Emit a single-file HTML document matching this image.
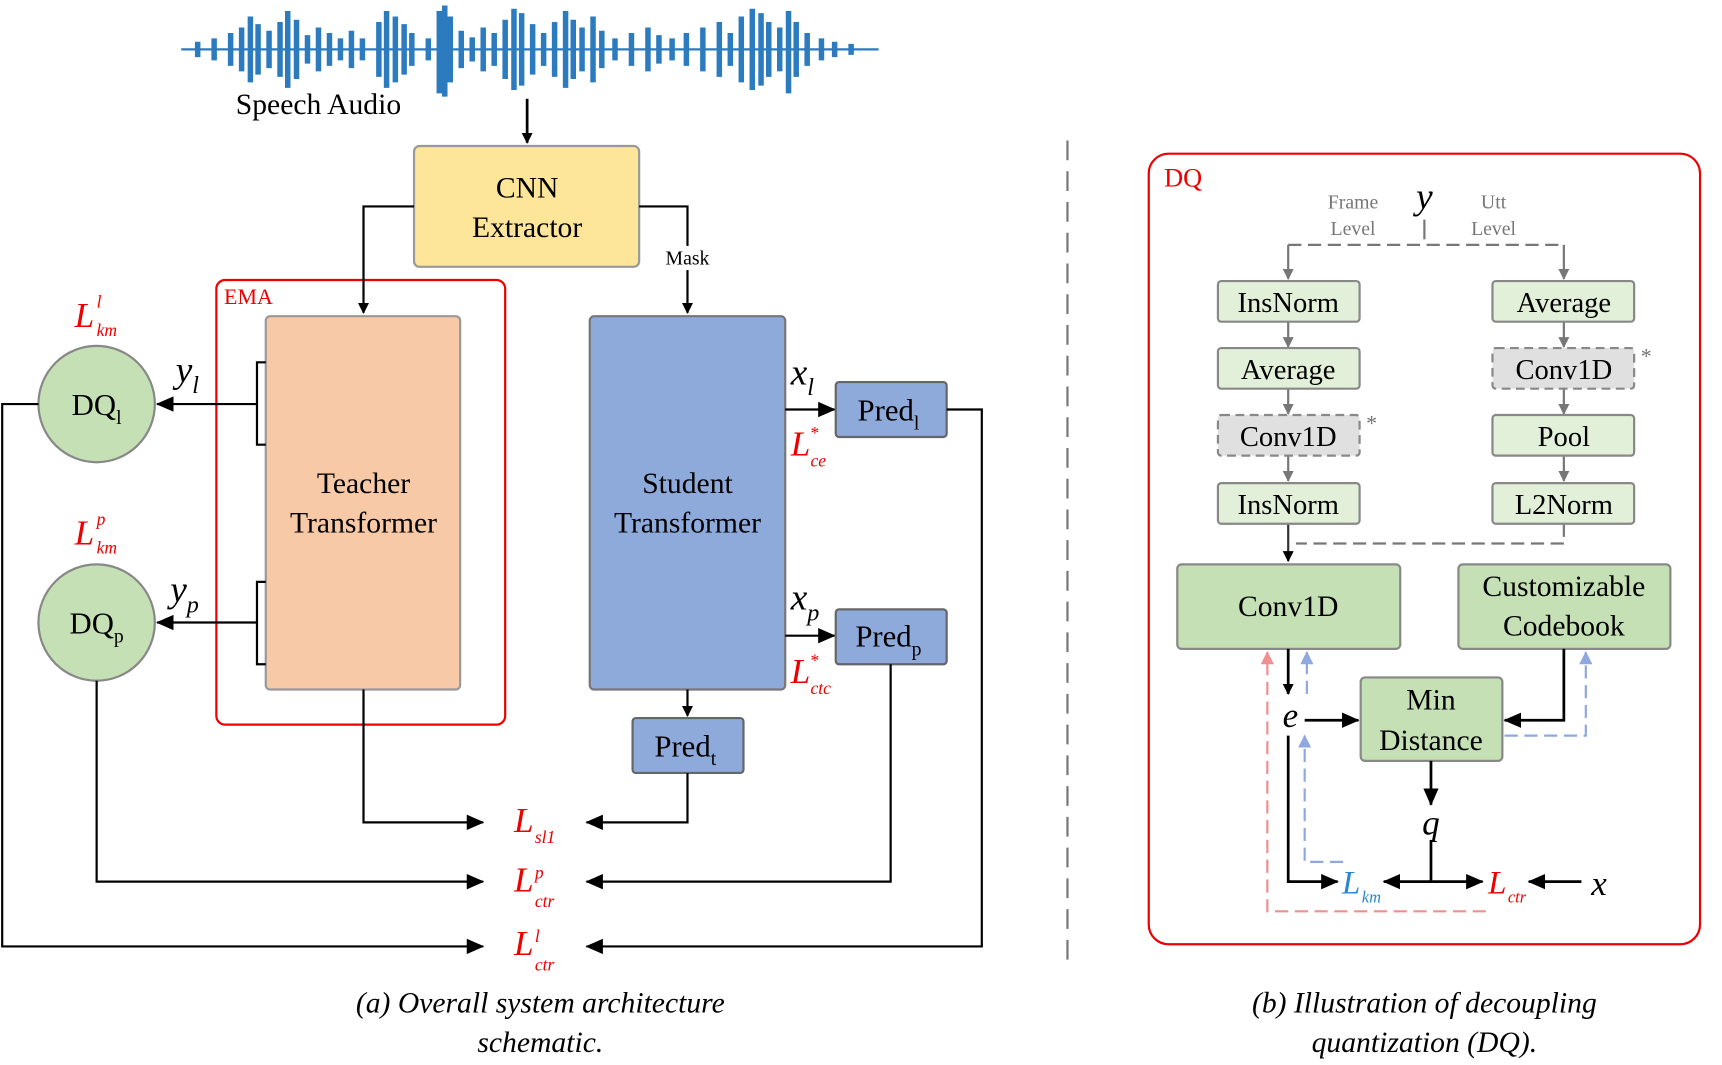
<!DOCTYPE html>
<html><head><meta charset="utf-8"><style>
html,body{margin:0;padding:0;background:#fff;}
svg{display:block;}
text{font-family:"Liberation Serif",serif;}
</style></head><body>
<svg width="1722" height="1065" viewBox="0 0 1568 970" preserveAspectRatio="none" xmlns="http://www.w3.org/2000/svg">
<defs>
<marker id="a" markerWidth="10" markerHeight="10" refX="9" refY="5" orient="auto" markerUnits="userSpaceOnUse"><path d="M0,0 L10,5 L0,10 z" fill="#000"/></marker>
<marker id="ab" markerWidth="16" markerHeight="14" refX="15" refY="7" orient="auto" markerUnits="userSpaceOnUse"><path d="M0,0 L16,7 L0,14 z" fill="#000"/></marker>
<marker id="ag" markerWidth="10" markerHeight="10" refX="9" refY="5" orient="auto" markerUnits="userSpaceOnUse"><path d="M0,0 L10,5 L0,10 z" fill="#777"/></marker>
<marker id="abl" markerWidth="12" markerHeight="12" refX="11" refY="6" orient="auto" markerUnits="userSpaceOnUse"><path d="M0,0 L12,6 L0,12 z" fill="#8fa8e0"/></marker>
<marker id="ar" markerWidth="12" markerHeight="12" refX="11" refY="6" orient="auto" markerUnits="userSpaceOnUse"><path d="M0,0 L12,6 L0,12 z" fill="#f08f8f"/></marker>
</defs>
<g stroke="#2c7bbf" stroke-width="5">
<line x1="165" y1="45" x2="800" y2="45" stroke-width="2"/>
<path d="M180 38V52M195 35V55M210 30V60M220 25V65M228 15V75M235 22V68M245 28V62M255 20V70M262 10V80M270 18V72M280 32V58M290 25V65M300 30V60M310 35V55M320 28V62M330 35V55M345 20V70M352 10V80M360 15V75M368 22V68M375 30V60M390 35V55M400 10V85M405 5V88M410 15V75M420 28V62M430 34V56M440 25V65M450 30V60M460 18V72M468 8V82M475 12V78M485 22V68M495 30V60M505 20V70M515 10V80M522 18V72M530 25V65M540 15V75M548 28V62M560 35V55M575 30V60M590 25V65M600 32V58M612 35V55M625 30V60M640 25V65M655 20V70M665 30V60M675 15V75M685 8V82M693 12V78M700 20V70M710 25V65M718 10V85M725 20V70M735 30V60M748 35V55M760 38V52M775 40V50"/>
</g>
<text x="290" y="104" font-size="27" text-anchor="middle">Speech Audio</text>
<line x1="480" y1="90" x2="480" y2="130" stroke="#000" stroke-width="2.5" marker-end="url(#a)"/>
<rect x="377" y="133" width="205" height="110" rx="5" fill="#fde59a" stroke="#999" stroke-width="2"/>
<text x="480" y="180" font-size="27" text-anchor="middle">CNN</text>
<text x="480" y="216" font-size="27" text-anchor="middle">Extractor</text>
<rect x="197" y="255" width="263" height="405" rx="8" fill="none" stroke="#e00" stroke-width="2"/>
<text x="204" y="277" font-size="20" fill="#e00">EMA</text>
<path d="M377 188 H331 V285" fill="none" stroke="#000" stroke-width="2" marker-end="url(#a)"/>
<path d="M582 188 H626 V285" fill="none" stroke="#000" stroke-width="2" marker-end="url(#a)"/>
<rect x="600" y="224" width="52" height="22" fill="#fff"/>
<text x="626" y="241" font-size="18" text-anchor="middle">Mask</text>
<rect x="242" y="288" width="177" height="340" rx="4" fill="#f7c9a6" stroke="#999" stroke-width="2"/>
<text x="331" y="449" font-size="27" text-anchor="middle">Teacher</text>
<text x="331" y="485" font-size="27" text-anchor="middle">Transformer</text>
<rect x="537" y="288" width="178" height="340" rx="4" fill="#8eaadb" stroke="#777" stroke-width="2"/>
<text x="626" y="449" font-size="27" text-anchor="middle">Student</text>
<text x="626" y="485" font-size="27" text-anchor="middle">Transformer</text>
<path d="M242 330 H234 V405 H242" fill="none" stroke="#000" stroke-width="2"/>
<line x1="234" y1="368" x2="143" y2="368" stroke="#000" stroke-width="2" marker-end="url(#ab)"/>
<path d="M242 530 H234 V605 H242" fill="none" stroke="#000" stroke-width="2"/>
<line x1="234" y1="567" x2="143" y2="567" stroke="#000" stroke-width="2" marker-end="url(#ab)"/>
<circle cx="88" cy="368" r="53" fill="#c5e0b4" stroke="#888" stroke-width="2"/>
<text x="88" y="378" font-size="28" text-anchor="middle">DQ<tspan font-size="18" dy="8">l</tspan></text>
<circle cx="88" cy="567" r="53" fill="#c5e0b4" stroke="#888" stroke-width="2"/>
<text x="88" y="577" font-size="28" text-anchor="middle">DQ<tspan font-size="18" dy="8">p</tspan></text>
<text x="68" y="298" font-size="32" font-style="italic" fill="#e00">L</text><text x="88" y="280" font-size="16" font-style="italic" fill="#e00">l</text><text x="88" y="306" font-size="16" font-style="italic" fill="#e00">km</text>
<text x="68" y="496" font-size="32" font-style="italic" fill="#e00">L</text><text x="88" y="478" font-size="16" font-style="italic" fill="#e00">p</text><text x="88" y="504" font-size="16" font-style="italic" fill="#e00">km</text>
<text x="160" y="348" font-size="34" font-style="italic">y<tspan font-size="22" dy="10">l</tspan></text>
<text x="155" y="548" font-size="34" font-style="italic">y<tspan font-size="22" dy="10">p</tspan></text>
<line x1="715" y1="373" x2="760" y2="373" stroke="#000" stroke-width="2" marker-end="url(#ab)"/>
<line x1="715" y1="579" x2="760" y2="579" stroke="#000" stroke-width="2" marker-end="url(#ab)"/>
<rect x="761" y="348" width="101" height="50" rx="3" fill="#8eaadb" stroke="#666" stroke-width="2"/>
<text x="809" y="383" font-size="28" text-anchor="middle">Pred<tspan font-size="18" dy="8">l</tspan></text>
<rect x="761" y="555" width="101" height="50" rx="3" fill="#8eaadb" stroke="#666" stroke-width="2"/>
<text x="809" y="589" font-size="28" text-anchor="middle">Pred<tspan font-size="18" dy="8">p</tspan></text>
<line x1="626" y1="628" x2="626" y2="652" stroke="#000" stroke-width="2" marker-end="url(#a)"/>
<rect x="576" y="654" width="101" height="50" rx="3" fill="#8eaadb" stroke="#666" stroke-width="2"/>
<text x="624" y="689" font-size="28" text-anchor="middle">Pred<tspan font-size="18" dy="8">t</tspan></text>
<text x="720" y="350" font-size="34" font-style="italic">x<tspan font-size="22" dy="10">l</tspan></text>
<text x="720" y="555" font-size="34" font-style="italic">x<tspan font-size="22" dy="10">p</tspan></text>
<text x="720" y="415" font-size="32" font-style="italic" fill="#e00">L</text><text x="738" y="400" font-size="16" fill="#e00">*</text><text x="738" y="425" font-size="16" font-style="italic" fill="#e00">ce</text>
<text x="720" y="622" font-size="32" font-style="italic" fill="#e00">L</text><text x="738" y="607" font-size="16" fill="#e00">*</text><text x="738" y="632" font-size="16" font-style="italic" fill="#e00">ctc</text>
<g fill="none" stroke="#000" stroke-width="2">
<path d="M331 628 V749 H440" marker-end="url(#ab)"/>
<path d="M626 704 V749 H534" marker-end="url(#ab)"/>
<path d="M88 620 V803 H440" marker-end="url(#ab)"/>
<path d="M811 605 V803 H534" marker-end="url(#ab)"/>
<path d="M35 368 H2 V862 H440" marker-end="url(#ab)"/>
<path d="M862 373 H894 V862 H534" marker-end="url(#ab)"/>
</g>
<text x="468" y="758" font-size="32" font-style="italic" fill="#e00">L</text><text x="487" y="768" font-size="16" font-style="italic" fill="#e00">sl1</text>
<text x="468" y="812" font-size="32" font-style="italic" fill="#e00">L</text><text x="487" y="800" font-size="16" font-style="italic" fill="#e00">p</text><text x="487" y="826" font-size="16" font-style="italic" fill="#e00">ctr</text>
<text x="468" y="870" font-size="32" font-style="italic" fill="#e00">L</text><text x="487" y="858" font-size="16" font-style="italic" fill="#e00">l</text><text x="487" y="884" font-size="16" font-style="italic" fill="#e00">ctr</text>
<text x="492" y="922" font-size="27" font-style="italic" text-anchor="middle">(a) Overall system architecture</text>
<text x="492" y="958" font-size="27" font-style="italic" text-anchor="middle">schematic.</text>
<line x1="972" y1="128" x2="972" y2="875" stroke="#777" stroke-width="2" stroke-dasharray="18,10"/>
<rect x="1046" y="140" width="502" height="720" rx="18" fill="none" stroke="#e00" stroke-width="2"/>
<text x="1060" y="170" font-size="24" fill="#e00">DQ</text>
<text x="1297" y="190" font-size="34" font-style="italic" text-anchor="middle">y</text>
<text x="1232" y="190" font-size="18" fill="#777" text-anchor="middle">Frame</text>
<text x="1232" y="214" font-size="18" fill="#777" text-anchor="middle">Level</text>
<text x="1360" y="190" font-size="18" fill="#777" text-anchor="middle">Utt</text>
<text x="1360" y="214" font-size="18" fill="#777" text-anchor="middle">Level</text>
<g fill="none" stroke="#777" stroke-width="2">
<line x1="1297" y1="200" x2="1297" y2="218"/>
<path d="M1173 223 H1424" stroke-dasharray="12,6"/>
<path d="M1173 223 V254" marker-end="url(#ag)"/>
<path d="M1424 223 V254" marker-end="url(#ag)"/>
<path d="M1173 293 V316" marker-end="url(#ag)"/>
<path d="M1173 354 V377" marker-end="url(#ag)"/>
<path d="M1173 415 V438" marker-end="url(#ag)"/>
<path d="M1424 293 V316" marker-end="url(#ag)"/>
<path d="M1424 354 V377" marker-end="url(#ag)"/>
<path d="M1424 415 V438" marker-end="url(#ag)"/>
<path d="M1424 477 V495 H1180" stroke-dasharray="12,6"/>
</g>
<path d="M1173 477 V511" fill="none" stroke="#333" stroke-width="2" marker-end="url(#a)"/>
<g font-size="26" text-anchor="middle">
<rect x="1109" y="256" width="129" height="37" rx="3" fill="#e2f0d9" stroke="#888" stroke-width="2"/><text x="1173" y="284">InsNorm</text>
<rect x="1109" y="317" width="129" height="37" rx="3" fill="#e2f0d9" stroke="#888" stroke-width="2"/><text x="1173" y="345">Average</text>
<rect x="1109" y="378" width="129" height="37" rx="3" fill="#e0e0e0" stroke="#888" stroke-width="2" stroke-dasharray="8,5"/><text x="1173" y="406">Conv1D</text>
<rect x="1109" y="440" width="129" height="37" rx="3" fill="#e2f0d9" stroke="#888" stroke-width="2"/><text x="1173" y="468">InsNorm</text>
<rect x="1359" y="256" width="129" height="37" rx="3" fill="#e2f0d9" stroke="#888" stroke-width="2"/><text x="1424" y="284">Average</text>
<rect x="1359" y="317" width="129" height="37" rx="3" fill="#e0e0e0" stroke="#888" stroke-width="2" stroke-dasharray="8,5"/><text x="1424" y="345">Conv1D</text>
<rect x="1359" y="378" width="129" height="37" rx="3" fill="#e2f0d9" stroke="#888" stroke-width="2"/><text x="1424" y="406">Pool</text>
<rect x="1359" y="440" width="129" height="37" rx="3" fill="#e2f0d9" stroke="#888" stroke-width="2"/><text x="1424" y="468">L2Norm</text>
</g>
<text x="1244" y="392" font-size="20" fill="#777">*</text>
<text x="1494" y="331" font-size="20" fill="#777">*</text>
<rect x="1072" y="514" width="203" height="77" rx="4" fill="#c5e0b4" stroke="#888" stroke-width="2"/>
<text x="1173" y="561" font-size="27" text-anchor="middle">Conv1D</text>
<rect x="1328" y="514" width="193" height="77" rx="4" fill="#c5e0b4" stroke="#888" stroke-width="2"/>
<text x="1424" y="543" font-size="27" text-anchor="middle">Customizable</text>
<text x="1424" y="579" font-size="27" text-anchor="middle">Codebook</text>
<rect x="1239" y="617" width="129" height="76" rx="4" fill="#c5e0b4" stroke="#888" stroke-width="2"/>
<text x="1303" y="646" font-size="27" text-anchor="middle">Min</text>
<text x="1303" y="683" font-size="27" text-anchor="middle">Distance</text>
<g fill="none" stroke="#000" stroke-width="2.5">
<path d="M1173 591 V632" marker-end="url(#a)"/>
<path d="M1188 656 H1237" marker-end="url(#ab)"/>
<path d="M1424 591 V656 H1370" marker-end="url(#ab)"/>
<path d="M1303 693 V733" marker-end="url(#ab)"/>
<path d="M1303 765 V803"/>
<path d="M1303 803 H1260" marker-end="url(#ab)"/>
<path d="M1303 803 H1350" marker-end="url(#ab)"/>
<path d="M1173 670 V803 H1218" marker-end="url(#ab)"/>
<path d="M1440 803 H1392" marker-end="url(#ab)"/>
</g>
<g fill="none" stroke-width="2" stroke-dasharray="12,6">
<path d="M1353 830 H1154 V594" stroke="#f08f8f" marker-end="url(#ar)"/>
<path d="M1223 785 H1188 V670" stroke="#8fa8e0" marker-end="url(#abl)"/>
<path d="M1190 632 V594" stroke="#8fa8e0" marker-end="url(#abl)"/>
<path d="M1370 670 H1444 V594" stroke="#8fa8e0" marker-end="url(#abl)"/>
</g>
<text x="1175" y="662" font-size="32" font-style="italic" text-anchor="middle">e</text>
<text x="1303" y="760" font-size="32" font-style="italic" text-anchor="middle">q</text>
<text x="1456" y="815" font-size="32" font-style="italic" text-anchor="middle">x</text>
<text x="1222" y="814" font-size="30" font-style="italic" fill="#2a86d0">L</text><text x="1240" y="822" font-size="15" font-style="italic" fill="#2a86d0">km</text>
<text x="1355" y="814" font-size="30" font-style="italic" fill="#e00">L</text><text x="1373" y="822" font-size="15" font-style="italic" fill="#e00">ctr</text>
<text x="1297" y="922" font-size="27" font-style="italic" text-anchor="middle">(b) Illustration of decoupling</text>
<text x="1297" y="958" font-size="27" font-style="italic" text-anchor="middle">quantization (DQ).</text>
</svg>
</body></html>
